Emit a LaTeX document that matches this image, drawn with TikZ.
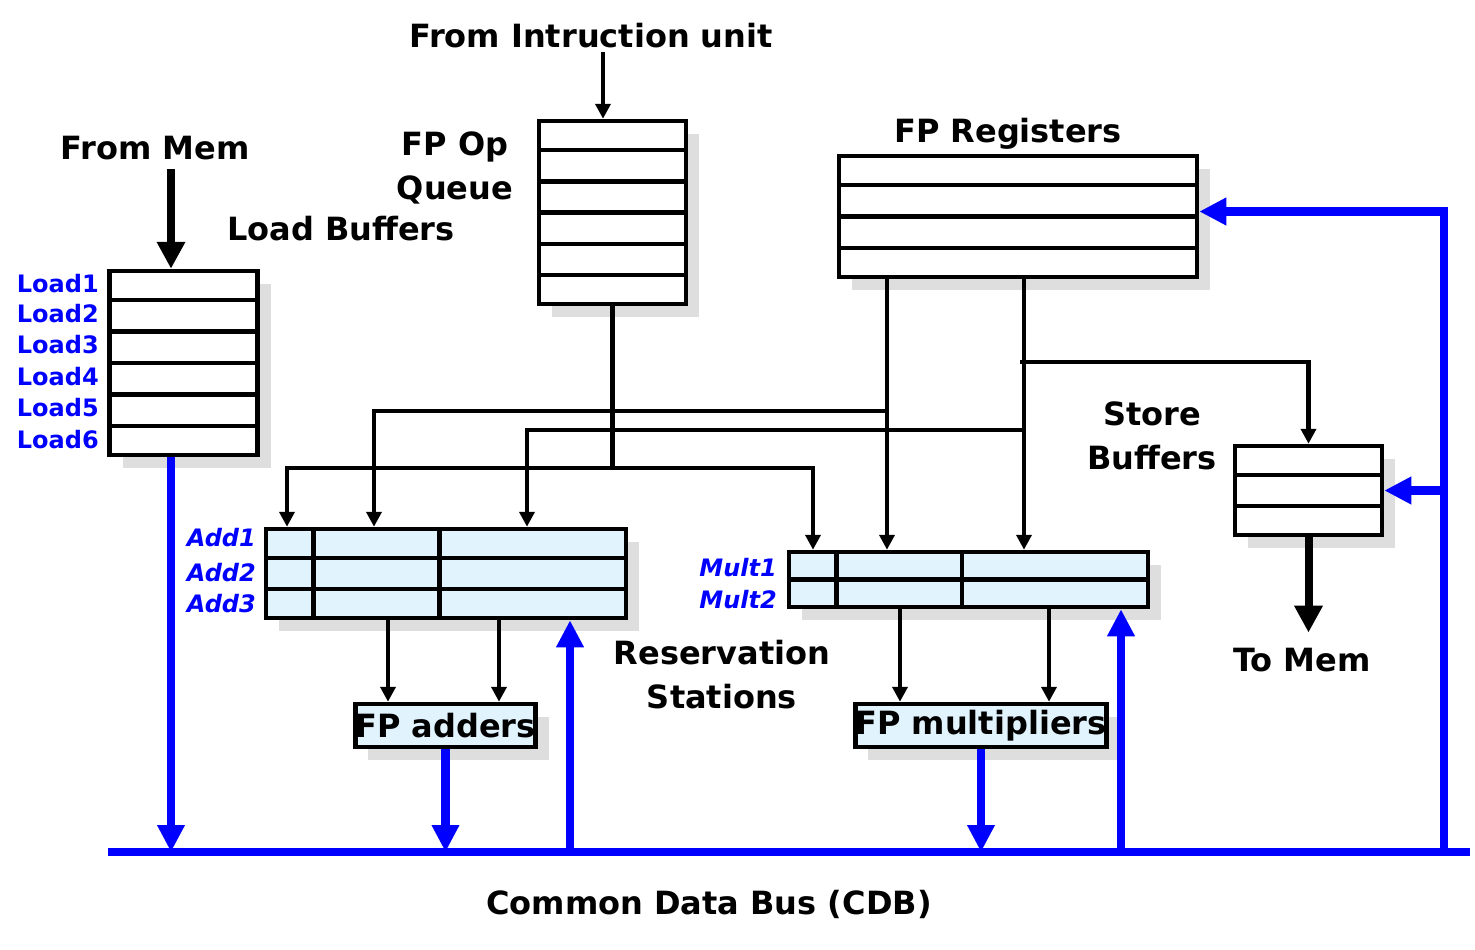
\documentclass[tikz,border=0pt]{standalone}
\usepackage{fontspec}
\setmainfont{DejaVu Sans}
\usetikzlibrary{arrows.meta,shadows,calc}

\definecolor{rsblue}{HTML}{E1F3FD}
\definecolor{cdb}{HTML}{0000FF}

\tikzset{
  unit/.style={draw, line width=4.5pt, fill=white, inner sep=0pt,
    general shadow={fill=black!13, shadow xshift=13pt, shadow yshift=-13pt}},
  rsunit/.style={unit, fill=rsblue},
  rowline/.style={line width=4.5pt},
  wire/.style={line width=4.5pt},
  wirearrow/.style={wire, -{Triangle[width=15pt,length=15pt]}},
  memarrow/.style={line width=8pt, -{Triangle[width=27pt,length=27pt]}},
  bus/.style={cdb, line width=8.5pt},
  busarrow/.style={bus, -{Triangle[width=26pt,length=27pt]}},
  lbl/.style={font=\fontsize{32}{44}\selectfont\bfseries, align=center},
  tag/.style={text=cdb, font=\fontsize{24}{28}\selectfont\bfseries, anchor=east, inner sep=0pt},
  rstag/.style={tag, font=\fontsize{24}{28}\selectfont\bfseries\itshape}
}

% horizontal lines inside a box: node, number of lines
\newcommand{\splitrows}[2]{%
  \foreach \k in {1,...,#2}
    \draw[rowline] ($(#1.north west)!{\k/(#2+1)}!(#1.south west)$) -- ($(#1.north east)!{\k/(#2+1)}!(#1.south east)$);}
% the two columns of a reservation station
\newcommand{\splitcols}[1]{%
  \foreach \f in {0.137,0.482}
    \draw[rowline] ($(#1.north west)!\f!(#1.north east)$) -- ($(#1.south west)!\f!(#1.south east)$);}

\begin{document}
\begin{tikzpicture}[x=1pt,y=-1pt]
  \useasboundingbox (0,0) rectangle (1475,950);

  % buffers and registers
  \node[unit, minimum width=148pt, minimum height=184pt] (ldbuf) at (183.5,363) {};
  \splitrows{ldbuf}{5}
  \node[unit, minimum width=147pt, minimum height=183pt] (fpq) at (612.5,212.5) {};
  \splitrows{fpq}{5}
  \node[unit, minimum width=358pt, minimum height=121pt] (fpreg) at (1018,216.5) {};
  \splitrows{fpreg}{3}
  \node[unit, minimum width=147pt, minimum height=89pt] (stbuf) at (1308.5,490.5) {};
  \splitrows{stbuf}{2}

  % reservation stations
  \node[rsunit, minimum width=360pt, minimum height=89pt] (addrs) at (446,573.5) {};
  \splitrows{addrs}{2}
  \splitcols{addrs}
  \node[rsunit, minimum width=359pt, minimum height=55pt] (multrs) at (968.5,579.5) {};
  \splitrows{multrs}{1}
  \splitcols{multrs}

  % functional units
  \node[rsunit, lbl, minimum width=173pt, minimum height=43pt] (fpadd) at (445.5,725.5) {FP adders};
  \node[rsunit, lbl, minimum width=236pt, minimum height=43pt] (fpmul) at (981,725.5) {FP multipliers};

  % labels
  \node[lbl] (instr) at (591,36) {From Intruction unit};
  \node[lbl] (frommem) at (155,148) {From Mem};
  \node[lbl] (fpoplbl) at (455,168) {FP Op\\Queue};
  \node[lbl] (ldlbl) at (341,229) {Load Buffers};
  \node[lbl] (reglbl) at (1008,134) {FP Registers};
  \node[lbl] (stlbl) at (1152,436) {Store\\Buffers};
  \node[lbl] (tomem) at (1302,660) {To Mem};
  \node[lbl] (rslbl) at (722,675) {Reservation\\Stations};
  \node[lbl] (cdblbl) at (709,904) {Common Data Bus (CDB)};

  \foreach \i/\y in {1/284,2/314,3/345,4/377,5/408,6/440}
    \node[tag] (load\i) at (99,\y) {Load\i};
  \foreach \i/\y in {1/538,2/573,3/604}
    \node[rstag] (add\i) at (256,\y) {Add\i};
  \foreach \i/\y in {1/568,2/600}
    \node[rstag] (mult\i) at (777,\y) {Mult\i};

  % inputs and output
  \draw[wirearrow] ([xshift=12pt]instr.south) -- ([xshift=-9.5pt]fpq.north);
  \draw[memarrow] ([xshift=16pt,yshift=-6pt]frommem.south) -- ([xshift=-12.5pt]ldbuf.north);
  \coordinate (tm) at ([yshift=12pt]tomem.north);
  \draw[memarrow] (stbuf.south) -- (stbuf.south |- tm);

  % operations from the queue
  \coordinate (qsplit) at (612.5,468);
  \draw[wire] (fpq.south) -- (qsplit);
  \draw[wirearrow] (qsplit) -| ([xshift=-159pt]addrs.north);
  \draw[wirearrow] (qsplit) -| ([xshift=-155.5pt]multrs.north);

  % operands from the registers
  \draw[wirearrow] ([xshift=-131pt]fpreg.south) -- ([xshift=-81.5pt]multrs.north);
  \draw[wirearrow] ([xshift=6pt]fpreg.south) -- ([xshift=55.5pt]multrs.north);
  \coordinate (regA) at (887,411);
  \draw[wirearrow] (regA) -| ([xshift=-72pt]addrs.north);
  \coordinate (regB) at (1024,430);
  \draw[wirearrow] (regB) -| ([xshift=81pt]addrs.north);
  \coordinate (regC) at (1020,362);
  \draw[wirearrow] (regC) -| (stbuf.north);

  % stations to units
  \coordinate (a1) at ([xshift=-58pt]addrs.south);
  \coordinate (a2) at ([xshift=53pt]addrs.south);
  \coordinate (m1) at ([xshift=-68.5pt]multrs.south);
  \coordinate (m2) at ([xshift=80.5pt]multrs.south);
  \draw[wirearrow] (a1) -- (a1 |- fpadd.north);
  \draw[wirearrow] (a2) -- (a2 |- fpadd.north);
  \draw[wirearrow] (m1) -- (m1 |- fpmul.north);
  \draw[wirearrow] (m2) -- (m2 |- fpmul.north);

  % common data bus
  \coordinate (busL) at (108,852);
  \coordinate (busR) at (1470,852);
  \draw[bus] (busL) -- (busR);
  \coordinate (ld) at ([xshift=-12.5pt]ldbuf.south);
  \draw[busarrow] (ld) -- (ld |- busL);
  \draw[busarrow] (fpadd.south) -- (fpadd.south |- busL);
  \draw[busarrow] (fpmul.south) -- (fpmul.south |- busL);
  \coordinate (b1) at ([xshift=124pt]addrs.south);
  \coordinate (b2) at ([xshift=152.5pt]multrs.south);
  \draw[busarrow] (b1 |- busL) -- (b1);
  \draw[busarrow] (b2 |- busL) -- (b2);
  \coordinate (loop) at (1444,852);
  \draw[busarrow] (loop) |- ([yshift=5pt]fpreg.east);
  \draw[busarrow] (loop |- stbuf.east) -- (stbuf.east);
\end{tikzpicture}
\end{document}
